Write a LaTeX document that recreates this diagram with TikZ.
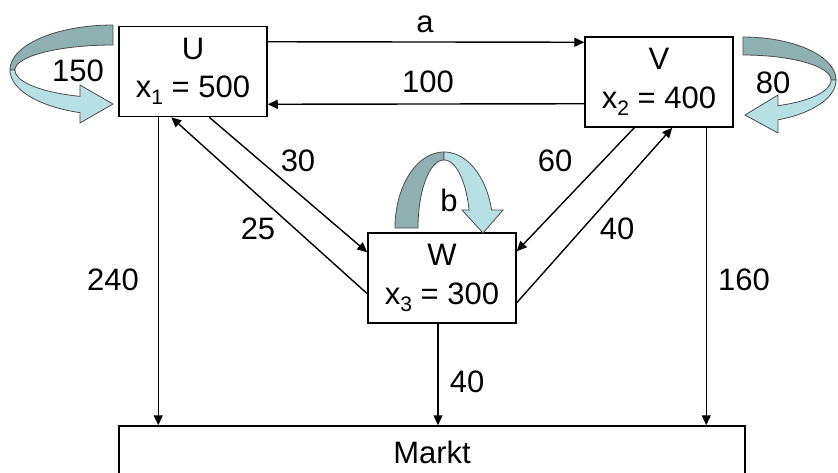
\documentclass[tikz,border=0pt]{standalone}
\usepackage{fontspec}
\setmainfont{Liberation Sans}
\usetikzlibrary{arrows.meta}
\definecolor{bandDark}{RGB}{143,176,176}
\definecolor{bandLight}{RGB}{183,224,228}
\newcommand\mysub[1]{\raisebox{-7pt}{\fontsize{21}{21}\selectfont #1}}
\begin{document}
\begin{tikzpicture}[x=1pt,y=-1pt,
  box/.style={draw=black, line width=1.5pt, fill=white, minimum width=148pt, minimum height=90pt, inner sep=0pt, align=center, font=\fontsize{31}{38.5}\selectfont},
  lbl/.style={anchor=base, inner sep=0pt, font=\fontsize{31}{35}\selectfont},
  flow/.style={draw=black, line width=1.4pt, -{Triangle[length=10pt,width=9pt]}},
  darkband/.style={fill=bandDark, draw=black!70, line width=0.8pt},
  lightband/.style={fill=bandLight, draw=black!70, line width=0.8pt}]
\useasboundingbox (0,0) rectangle (838,472);
\clip (0,0) rectangle (838,472);

% boxes
\node[box] (U) at (193,71.5) {U\\x\mysub{1} = 500};
\node[box] (V) at (659,82) {V\\x\mysub{2} = 400};
\node[box] (W) at (442,278) {W\\x\mysub{3} = 300};
\node[box, minimum width=626pt, minimum height=100pt, text height=22pt, text depth=48pt, font=\fontsize{31}{35}\selectfont] (M) at (432,476) {Markt};

% self loop U
\path[darkband] plot[domain=90:180, samples=40, variable=\t] ({113+103*cos(\t)},{70-45*sin(\t)})
  -- plot[domain=180:90, samples=40, variable=\t] ({113+98*cos(\t)},{70-25*sin(\t)}) -- cycle;
\path[lightband] plot[domain=180:251.3, samples=40, variable=\t] ({113+103*cos(\t)},{70-45*sin(\t)})
  -- (80,123) -- (113,104) -- (80,85)
  -- plot[domain=250.3:180, samples=40, variable=\t] ({113+98*cos(\t)},{70-28*sin(\t)}) -- cycle;

% self loop V
\path[darkband] plot[domain=90:0, samples=40, variable=\t] ({743+93*cos(\t)},{80-43*sin(\t)})
  -- plot[domain=0:90, samples=40, variable=\t] ({743+88*cos(\t)},{80-25*sin(\t)}) -- cycle;
\path[lightband] plot[domain=0:-67.9, samples=40, variable=\t] ({743+93*cos(\t)},{80-43*sin(\t)})
  -- (778,133) -- (745,115) -- (778,95)
  -- plot[domain=-66.6:0, samples=40, variable=\t] ({743+88*cos(\t)},{80-28*sin(\t)}) -- cycle;

% self loop W
\path[darkband] plot[domain=180:90, samples=40, variable=\t] ({444+49*cos(\t)},{228-76*sin(\t)})
  -- plot[domain=90:180, samples=40, variable=\t] ({444+26*cos(\t)},{228-68*sin(\t)}) -- cycle;
\path[lightband] plot[domain=90:13.7, samples=40, variable=\t] ({444+49*cos(\t)},{228-76*sin(\t)})
  -- (503,210) -- (483,233) -- (462,210)
  -- plot[domain=15.4:90, samples=40, variable=\t] ({444+26*cos(\t)},{228-68*sin(\t)}) -- cycle;

% connectors
\draw[flow] ([yshift=-16pt]U.north east) -- ([yshift=-6pt]V.north west);
\draw[flow] ([yshift=24pt]V.south west) -- ([yshift=13pt]U.south east);
\draw[flow] ([xshift=91pt]U.south west) -- ([yshift=-20pt]W.north west);
\draw[flow] ([yshift=30pt]W.south west) -- ([xshift=53pt]U.south west);
\draw[flow] ([xshift=50pt]V.south west) -- ([yshift=-19pt]W.north east);
\draw[flow] ([yshift=21pt]W.south east) -- ([xshift=88pt]V.south west);
\coordinate (u240) at ([xshift=40pt]U.south west);
\coordinate (w40) at ([xshift=-4pt]W.south);
\coordinate (v160) at ([xshift=122pt]V.south west);
\draw[flow] (u240) -- (u240 |- M.north);
\draw[flow] (w40) -- (w40 |- M.north);
\draw[flow] (v160) -- (v160 |- M.north);

% labels
\node[lbl] (la) at (425,32) {a};
\node[lbl] (l100) at (428,92) {100};
\node[lbl] (l150) at (78,81) {150};
\node[lbl] (l80) at (773,93) {80};
\node[lbl] (l30) at (298,171) {30};
\node[lbl] (l25) at (258,239) {25};
\node[lbl] (l60) at (555,171) {60};
\node[lbl] (l40a) at (617,239) {40};
\node[lbl] (lb) at (449,211) {b};
\node[lbl] (l240) at (113,290) {240};
\node[lbl] (l160) at (744,290) {160};
\node[lbl] (l40b) at (467,392) {40};
\end{tikzpicture}
\end{document}
